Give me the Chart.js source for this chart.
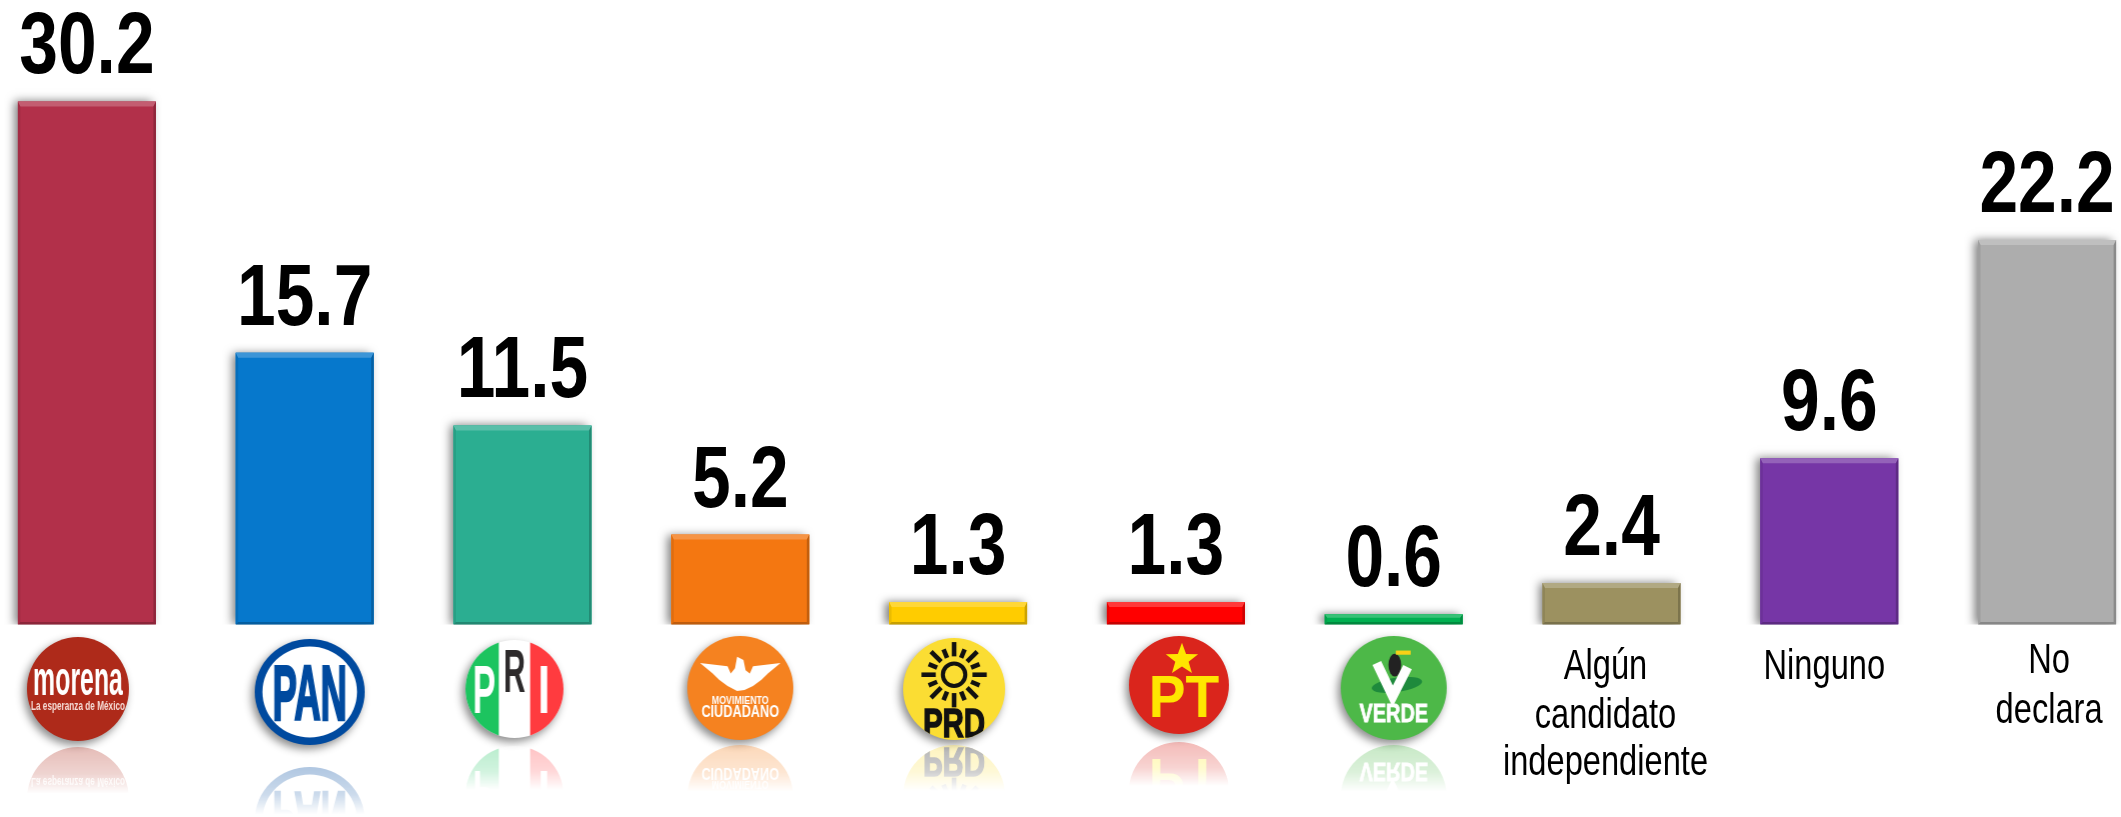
<!DOCTYPE html>
<html>
<head>
<meta charset="utf-8">
<title>Preferencia electoral</title>
<script src="https://cdn.jsdelivr.net/npm/chart.js@4"></script>
<style>
  html, body { margin: 0; padding: 0; background: #fff; overflow: hidden; width: 2121px; height: 817px; }
  canvas { position: absolute; left: -22px; top: 0; }
</style>
</head>
<body>
<canvas id="chart" width="2178" height="817"></canvas>
<script>
const categories = ['morena', 'PAN', 'PRI', 'Movimiento Ciudadano', 'PRD', 'PT', 'VERDE', 'Algún candidato independiente', 'Ninguno', 'No declara'];
const values = [30.2, 15.7, 11.5, 5.2, 1.3, 1.3, 0.6, 2.4, 9.6, 22.2];
const barColors = ['#b2304a', '#0678cc', '#2bae91', '#f47711', '#ffcc00', '#ff0000', '#00b050', '#9c9160', '#7636a6', '#adadad'];
const textLabels = { 7: ['Algún', 'candidato', 'independiente'], 8: ['Ninguno'], 9: ['No', 'declara'] };

const FONT = '"Liberation Sans", Arial, sans-serif';

// texto angostado, igual que en la lámina original
function narrowText(ctx, text, x, y, font, squeeze, color, heavy) {
  ctx.save();
  ctx.translate(x, y);
  ctx.scale(squeeze, 1);
  ctx.font = font;
  ctx.fillStyle = color;
  ctx.textAlign = 'center';
  ctx.textBaseline = 'alphabetic';
  ctx.fillText(text, 0, 0);
  if (heavy) {
    ctx.strokeStyle = color;
    ctx.lineWidth = heavy;
    ctx.strokeText(text, 0, 0);
  }
  ctx.restore();
}

function disc(g, color) {
  g.beginPath();
  g.arc(0, 0, 50, 0, Math.PI * 2);
  g.fillStyle = color;
  g.fill();
}

// Logos en coordenadas locales, radio 50
const logoPainters = {
  morena(g) {
    disc(g, '#ae2a1a');
    narrowText(g, 'morena', 0, 6, 'bold 46px ' + FONT, 0.53, '#fff');
    narrowText(g, 'La esperanza de México', 0, 20, 'bold 13px ' + FONT, 0.62, '#f6dcd6');
  },
  PAN(g) {
    disc(g, '#004a9f');
    g.beginPath(); g.arc(0, 0, 43, 0, Math.PI * 2); g.fillStyle = '#fff'; g.fill();
    narrowText(g, 'PAN', 0, 26, 'bold 74px ' + FONT, 0.45, '#004a9f', 2.5);
  },
  PRI(g) {
    disc(g, '#fff');
    g.save();
    g.beginPath(); g.arc(0, 0, 50, 0, Math.PI * 2); g.clip();
    g.fillStyle = '#1cc45f'; g.fillRect(-50, -50, 34, 100);
    g.fillStyle = '#ff3b3f'; g.fillRect(16, -50, 34, 100);
    g.restore();
    narrowText(g, 'P', -31, 24, 'bold 70px ' + FONT, 0.5, '#fff');
    narrowText(g, 'R', 0, 3, 'bold 62px ' + FONT, 0.5, '#2d2a2b');
    narrowText(g, 'I', 30, 24, 'bold 70px ' + FONT, 0.65, '#fff');
  },
  'Movimiento Ciudadano'(g) {
    disc(g, '#f58220');
    g.fillStyle = '#fff';
    g.beginPath();
    g.moveTo(-38, -24); g.lineTo(-12, -21); g.lineTo(-9, -14); g.lineTo(-5, -19); g.lineTo(-3, -30);
    g.lineTo(3, -27); g.lineTo(5, -17); g.lineTo(9, -14); g.lineTo(12, -21); g.lineTo(38, -24);
    g.lineTo(26, -14); g.lineTo(20, -8); g.lineTo(12, -2); g.lineTo(4, 2); g.lineTo(-3, 3);
    g.lineTo(-12, -2); g.lineTo(-20, -8); g.lineTo(-26, -14);
    g.closePath();
    g.fill();
    narrowText(g, 'MOVIMIENTO', 0, 15, 'bold 11px ' + FONT, 0.76, '#fff');
    narrowText(g, 'CIUDADANO', 0, 28, 'bold 15px ' + FONT, 0.8, '#fff');
  },
  PRD(g) {
    disc(g, '#fbdd33');
    g.strokeStyle = '#111';
    g.lineWidth = 4;
    g.beginPath(); g.arc(0, -14, 11, 0, Math.PI * 2); g.stroke();
    g.lineWidth = 4.5;
    for (let i = 0; i < 16; i++) {
      const a = i / 16 * Math.PI * 2;
      g.beginPath();
      g.moveTo(Math.cos(a) * 18, -14 + Math.sin(a) * 18);
      g.lineTo(Math.cos(a) * (i % 2 ? 27 : 32), -14 + Math.sin(a) * (i % 2 ? 27 : 32));
      g.stroke();
    }
    g.save();
    g.beginPath(); g.arc(0, 0, 50, 0, Math.PI * 2); g.clip();
    narrowText(g, 'PRD', 0, 47, 'bold 40px ' + FONT, 0.72, '#111', 1.5);
    g.restore();
  },
  PT(g) {
    disc(g, '#da251c');
    g.fillStyle = '#ffe600';
    g.beginPath();
    for (let i = 0; i < 10; i++) {
      const a = -Math.PI / 2 + i * Math.PI / 5, r = i % 2 ? 7 : 17;
      g.lineTo(3 + Math.cos(a) * r, -26 + Math.sin(a) * r);
    }
    g.closePath();
    g.fill();
    narrowText(g, 'PT', 5, 33, 'bold 60px ' + FONT, 0.92, '#ffe600');
  },
  VERDE(g) {
    disc(g, '#4db848');
    g.fillStyle = '#1e8a3c';
    g.beginPath(); g.ellipse(3, -3, 24, 7, -0.15, 0, Math.PI * 2); g.fill();
    g.fillStyle = '#222';
    g.beginPath(); g.ellipse(1, -22, 6, 11, 0, 0, Math.PI * 2); g.fill();
    g.fillStyle = '#f7d117';
    g.fillRect(2, -36, 14, 4);
    g.strokeStyle = '#fff';
    g.lineWidth = 9;
    g.beginPath(); g.moveTo(-16, -24); g.lineTo(-1, 8); g.lineTo(13, -20); g.stroke();
    narrowText(g, 'VERDE', 0, 33, 'bold 25px ' + FONT, 0.75, '#fff', 0.8);
  }
};

// Ajustes de dibujo de cada logo respecto al centro de su barra
const logoPlacement = [
  { dx: -9, cy: 689, rx: 51, ry: 52, reflectGap: 4 },
  { dx: 5, cy: 692, rx: 55, ry: 53, reflectGap: 20 },
  { dx: -8, cy: 689, rx: 49, ry: 49, reflectGap: 6 },
  { dx: 0, cy: 688, rx: 53, ry: 52, reflectGap: 3 },
  { dx: -4, cy: 689, rx: 51, ry: 51, reflectGap: 3 },
  { dx: 3, cy: 685, rx: 50, ry: 49, reflectGap: 6 },
  { dx: 0, cy: 688, rx: 53, ry: 52, reflectGap: 3 }
];

function makeLogo(paint, rx, ry) {
  const c = document.createElement('canvas');
  c.width = Math.ceil(rx * 2) + 4;
  c.height = Math.ceil(ry * 2) + 4;
  const g = c.getContext('2d');
  g.translate(c.width / 2, c.height / 2);
  g.scale(rx / 50, ry / 50);
  paint(g);
  return c;
}

function drawLogo(ctx, x, place, paint) {
  const img = makeLogo(paint, place.rx, place.ry);
  const left = x + place.dx - img.width / 2;
  const top = place.cy - img.height / 2;

  ctx.save();
  ctx.shadowColor = 'rgba(0,0,0,0.45)';
  ctx.shadowBlur = 9;
  ctx.shadowOffsetX = -3;
  ctx.shadowOffsetY = 4;
  ctx.drawImage(img, left, top);
  ctx.restore();

  // reflejo que se desvanece
  const fade = document.createElement('canvas');
  fade.width = img.width;
  fade.height = img.height;
  const f = fade.getContext('2d');
  f.translate(0, img.height);
  f.scale(1, -1);
  f.drawImage(img, 0, 0);
  f.setTransform(1, 0, 0, 1, 0, 0);
  f.globalCompositeOperation = 'destination-in';
  const grad = f.createLinearGradient(0, 0, 0, img.height * 0.45);
  grad.addColorStop(0, 'rgba(0,0,0,0.32)');
  grad.addColorStop(0.6, 'rgba(0,0,0,0.2)');
  grad.addColorStop(1, 'rgba(0,0,0,0)');
  f.fillStyle = grad;
  f.fillRect(0, 0, img.width, img.height);
  ctx.drawImage(fade, left, place.cy + place.ry + place.reflectGap);
}

// Sombra lateral de las barras
const barShadow = {
  id: 'barShadow',
  beforeDatasetsDraw(chart) {
    const ctx = chart.ctx;
    const bottom = chart.chartArea.bottom;
    ctx.save();
    ctx.beginPath();
    ctx.rect(0, 0, chart.width, bottom);
    ctx.clip();
    chart.getDatasetMeta(0).data.forEach((bar, i) => {
      ctx.save();
      ctx.shadowColor = 'rgba(0,0,0,0.5)';
      ctx.shadowBlur = 9;
      ctx.shadowOffsetX = -4;
      ctx.fillStyle = barColors[i];
      ctx.fillRect(bar.x - bar.width / 2, bar.y, bar.width, bar.base - bar.y);
      ctx.restore();
    });
    ctx.restore();
  }
};

// Bisel de cada barra
const barBevel = {
  id: 'barBevel',
  afterDatasetsDraw(chart) {
    const ctx = chart.ctx;
    chart.getDatasetMeta(0).data.forEach(bar => {
      const l = bar.x - bar.width / 2, r = bar.x + bar.width / 2, t = bar.y, b = bar.base;
      const h = b - t, top = Math.min(5, h / 3), side = 2.5, foot = Math.min(2.5, h / 4);
      const face = (pts, color) => {
        ctx.beginPath();
        pts.forEach(p => ctx.lineTo(p[0], p[1]));
        ctx.closePath();
        ctx.fillStyle = color;
        ctx.fill();
      };
      face([[l, t], [r, t], [r - side, t + top], [l + side, t + top]], 'rgba(255,255,255,0.22)');
      face([[l, t], [l + side, t + top], [l + side, b - foot], [l, b]], 'rgba(0,0,0,0.08)');
      face([[r, t], [r - side, t + top], [r - side, b - foot], [r, b]], 'rgba(0,0,0,0.2)');
      face([[l, b], [l + side, b - foot], [r - side, b - foot], [r, b]], 'rgba(0,0,0,0.22)');
    });
  }
};

// Valores sobre las barras, logos y etiquetas de texto
const annotations = {
  id: 'annotations',
  afterDraw(chart) {
    const ctx = chart.ctx;
    const bars = chart.getDatasetMeta(0).data;
    bars.forEach((bar, i) => {
      narrowText(ctx, values[i].toFixed(1), bar.x, bar.y - 28, 'bold 88px ' + FONT, 0.79, '#000');
      if (logoPainters[categories[i]]) {
        drawLogo(ctx, bar.x, logoPlacement[i], logoPainters[categories[i]]);
      }
    });
    const baselines = { 7: [679, 728, 775], 8: [679], 9: [673, 723] };
    const shift = { 7: -6, 8: -5, 9: 2 };
    Object.keys(textLabels).forEach(k => {
      textLabels[k].forEach((line, n) => {
        narrowText(ctx, line, bars[k].x + shift[k], baselines[k][n], '42px ' + FONT, 0.777, '#000');
      });
    });
  }
};

new Chart(document.getElementById('chart'), {
  type: 'bar',
  data: {
    labels: categories,
    datasets: [{
      data: values,
      backgroundColor: barColors,
      borderWidth: 0,
      barPercentage: 0.6336,
      categoryPercentage: 1
    }]
  },
  options: {
    responsive: false,
    animation: false,
    layout: { padding: { top: 1, left: 0, right: 0, bottom: 192.4 } },
    plugins: { legend: { display: false }, tooltip: { enabled: false } },
    scales: {
      x: { display: false },
      y: { display: false, min: 0, max: 36 }
    }
  },
  plugins: [barShadow, barBevel, annotations]
});
</script>
</body>
</html>
